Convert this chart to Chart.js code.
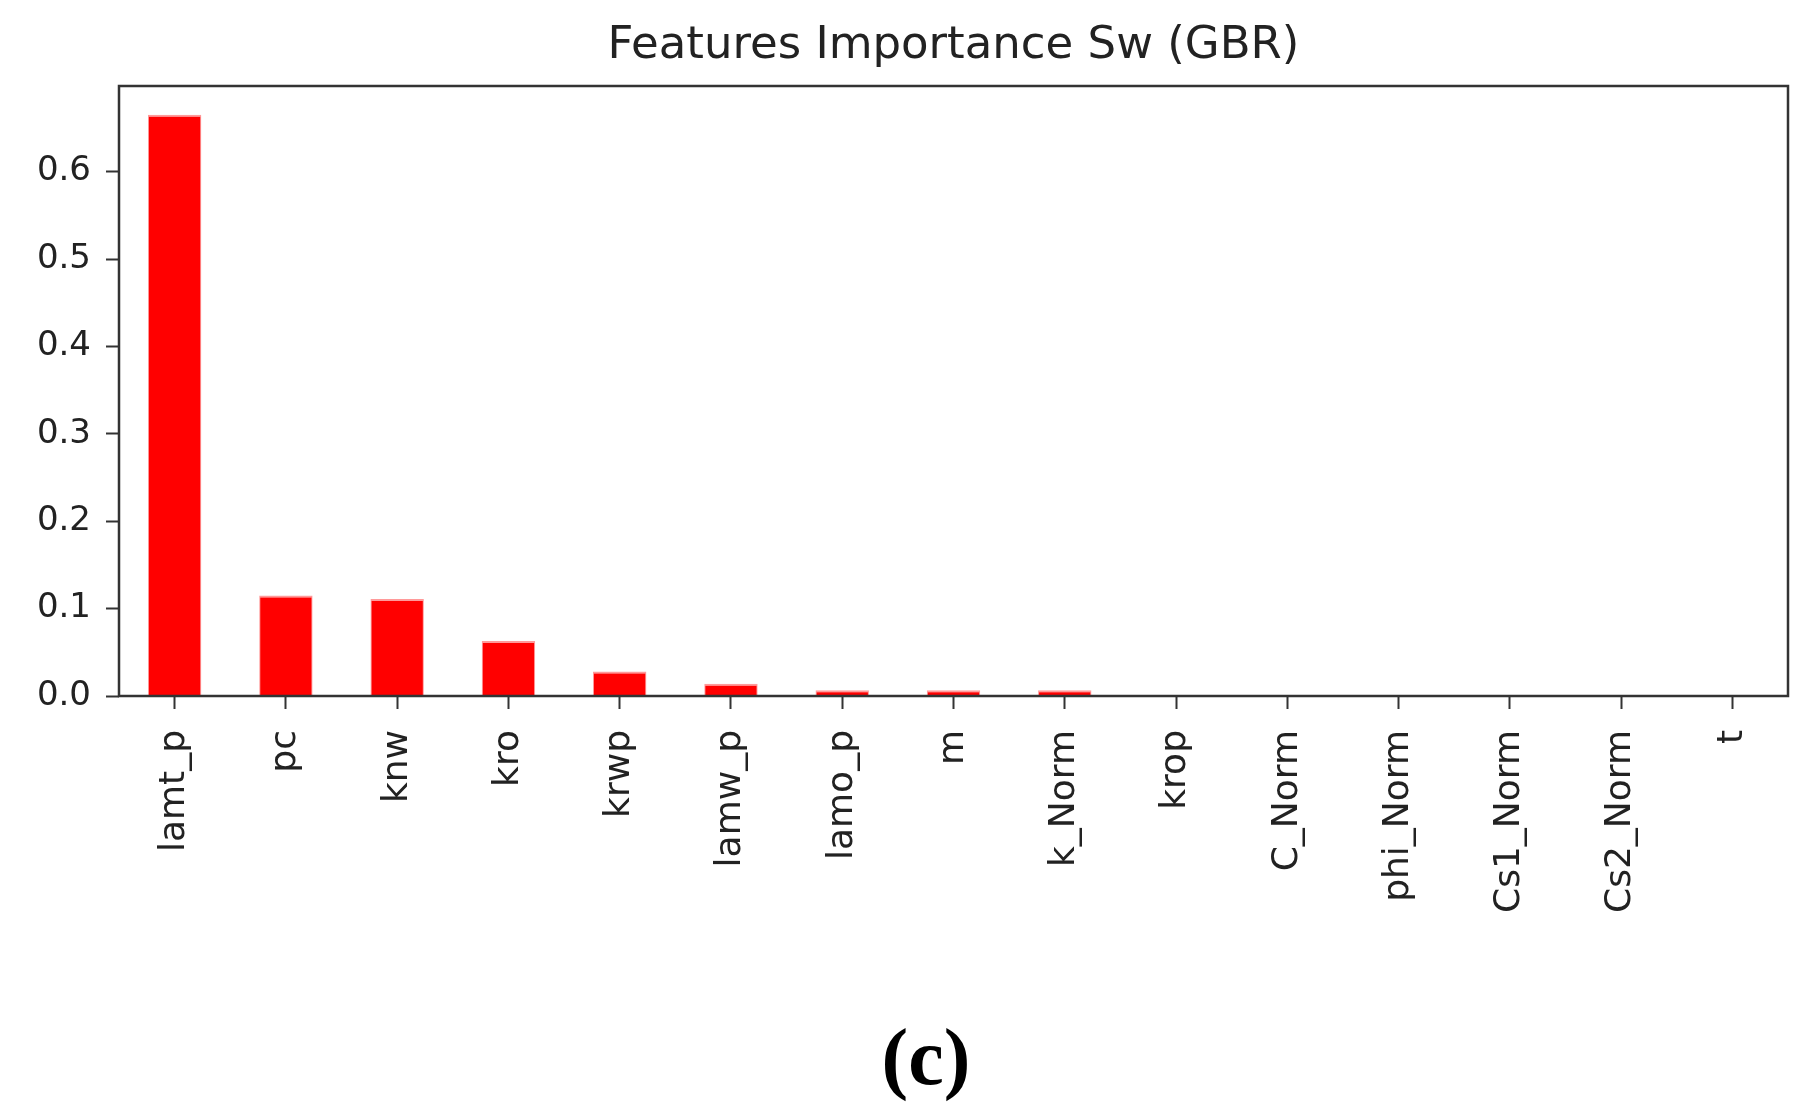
<!DOCTYPE html>
<html lang="en">
<head>
    <meta charset="UTF-8">
    <title>Features Importance Sw (GBR)</title>
    <script src="https://cdn.jsdelivr.net/npm/chart.js"></script>
    <style>
        html, body { margin: 0; padding: 0; background: #fff; }
        #wrap { width: 1815px; height: 1120px; position: relative; }
        #panel {
            position: absolute;
            left: 926px;
            top: 1010px;
            transform: translateX(-50%);
            font-family: "Liberation Serif", serif;
            font-weight: bold;
            font-size: 80px;
            line-height: 94px;
            color: #000;
        }
    </style>
</head>
<body>
    <div id="wrap">
        <canvas id="impChart"></canvas>
        <div id="panel">(c)</div>
    </div>

    <script>
        // feature names and GBR importances
        const features = ["lamt_p", "pc", "knw", "kro", "krwp", "lamw_p", "lamo_p", "m",
            "k_Norm", "krop", "C_Norm", "phi_Norm", "Cs1_Norm", "Cs2_Norm", "t"];
        const importance = [0.665, 0.115, 0.111, 0.063, 0.028, 0.014, 0.0067, 0.0067,
            0.0067, 0, 0, 0, 0, 0, 0];
        const yTicks = [0.0, 0.1, 0.2, 0.3, 0.4, 0.5, 0.6];

        const axisColor = "#333";

        // matplotlib style box round the plot
        const frame = {
            id: "frame",
            afterDatasetsDraw(chart) {
                const a = chart.chartArea;
                const ctx = chart.ctx;
                ctx.save();
                ctx.strokeStyle = axisColor;
                ctx.lineWidth = 2.5;
                ctx.strokeRect(a.left, a.top, a.right - a.left, a.bottom - a.top);
                ctx.restore();
            }
        };

        const ctx = document.getElementById("impChart").getContext("2d");
        new Chart(ctx, {
            type: "bar",
            data: {
                labels: features,
                datasets: [{
                    data: importance,
                    backgroundColor: "#ff0000",
                    borderColor: "#ff9a9a",
                    borderWidth: { top: 2, left: 1, right: 1, bottom: 0 },
                    barPercentage: 0.48,
                    categoryPercentage: 1.0
                }]
            },
            options: {
                responsive: true,
                maintainAspectRatio: false,
                animation: false,
                layout: { padding: { left: 0, right: 27, top: 0, bottom: 184 } },
                plugins: {
                    legend: { display: false },
                    tooltip: { enabled: false },
                    title: {
                        display: true,
                        fullSize: false,
                        text: "Features Importance Sw (GBR)",
                        color: "#222",
                        font: { family: "DejaVu Sans", size: 45, weight: "normal" },
                        padding: { top: 19, bottom: 13 }
                    }
                },
                scales: {
                    x: {
                        offset: true,
                        grid: { display: true, offset: false, drawOnChartArea: false, drawTicks: true,
                                tickLength: 13, tickWidth: 2, color: axisColor },
                        border: { display: false },
                        ticks: {
                            autoSkip: false,
                            minRotation: 90,
                            maxRotation: 90,
                            padding: 21,
                            color: "#222",
                            font: { family: "DejaVu Sans", size: 36 }
                        },
                        afterFit(scale) { scale.height = 240; }
                    },
                    y: {
                        min: 0,
                        max: 0.698,
                        grid: { display: true, drawOnChartArea: false, drawTicks: true,
                                tickLength: 13, tickWidth: 2, color: axisColor },
                        border: { display: false },
                        afterBuildTicks(scale) {
                            scale.ticks = yTicks.map(v => ({ value: v }));
                        },
                        ticks: {
                            padding: 15,
                            color: "#222",
                            font: { family: "DejaVu Sans", size: 34 },
                            callback: v => Number(v).toFixed(1)
                        },
                        afterFit(scale) { scale.width = 119; }
                    }
                }
            },
            plugins: [frame]
        });
    </script>
</body>
</html>
